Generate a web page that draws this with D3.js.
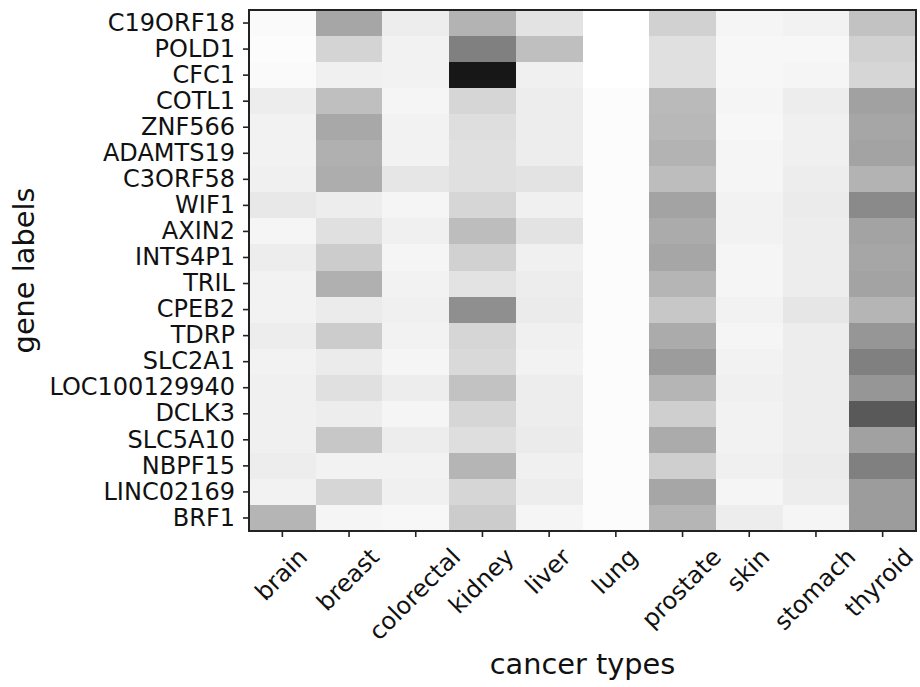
<!DOCTYPE html>
<html lang="en">
<head>
<meta charset="UTF-8" />
<title>gene labels vs cancer types</title>
<script src="https://d3js.org/d3.v7.min.js"></script>
<style>
  body { margin: 0; background: #fff; }
  text { font-family: "DejaVu Sans", sans-serif; fill: #111; }
</style>
</head>
<body>
<div id="chart"></div>
<script>
const cancers = ["brain", "breast", "colorectal", "kidney", "liver", "lung", "prostate", "skin", "stomach", "thyroid"];

const genes = ["C19ORF18", "POLD1", "CFC1", "COTL1", "ZNF566", "ADAMTS19", "C3ORF58", "WIF1", "AXIN2", "INTS4P1",
  "TRIL", "CPEB2", "TDRP", "SLC2A1", "LOC100129940", "DCLK3", "SLC5A10", "NBPF15", "LINC02169", "BRF1"];

// one row per gene, columns follow `cancers`
const values = [
  [0.02, 0.35, 0.07, 0.30, 0.11, 0.00, 0.18, 0.04, 0.05, 0.24],
  [0.01, 0.17, 0.05, 0.50, 0.25, 0.00, 0.12, 0.03, 0.03, 0.18],
  [0.02, 0.06, 0.05, 0.91, 0.06, 0.00, 0.12, 0.03, 0.04, 0.16],
  [0.07, 0.25, 0.04, 0.16, 0.07, 0.01, 0.27, 0.04, 0.07, 0.37],
  [0.05, 0.34, 0.05, 0.13, 0.07, 0.01, 0.28, 0.03, 0.06, 0.35],
  [0.05, 0.31, 0.05, 0.12, 0.07, 0.01, 0.30, 0.04, 0.06, 0.36],
  [0.06, 0.32, 0.10, 0.12, 0.11, 0.01, 0.26, 0.04, 0.07, 0.30],
  [0.09, 0.07, 0.04, 0.16, 0.06, 0.01, 0.36, 0.05, 0.08, 0.46],
  [0.04, 0.12, 0.06, 0.26, 0.11, 0.01, 0.33, 0.05, 0.07, 0.36],
  [0.07, 0.20, 0.04, 0.18, 0.06, 0.01, 0.35, 0.04, 0.07, 0.35],
  [0.05, 0.31, 0.05, 0.11, 0.07, 0.01, 0.29, 0.04, 0.07, 0.36],
  [0.05, 0.08, 0.06, 0.44, 0.08, 0.01, 0.22, 0.05, 0.10, 0.29],
  [0.07, 0.20, 0.05, 0.16, 0.06, 0.01, 0.33, 0.04, 0.07, 0.41],
  [0.05, 0.08, 0.04, 0.15, 0.05, 0.01, 0.39, 0.05, 0.07, 0.50],
  [0.06, 0.12, 0.07, 0.24, 0.07, 0.01, 0.29, 0.06, 0.07, 0.41],
  [0.06, 0.07, 0.04, 0.16, 0.07, 0.01, 0.19, 0.05, 0.07, 0.65],
  [0.06, 0.22, 0.07, 0.13, 0.08, 0.01, 0.33, 0.05, 0.07, 0.37],
  [0.07, 0.05, 0.05, 0.29, 0.06, 0.01, 0.19, 0.06, 0.08, 0.50],
  [0.05, 0.16, 0.06, 0.16, 0.07, 0.01, 0.35, 0.04, 0.07, 0.39],
  [0.29, 0.04, 0.03, 0.20, 0.04, 0.01, 0.29, 0.07, 0.04, 0.39]
];

const W = 920, H = 687;
const m = { left: 249, right: 916, top: 10, bottom: 531 };
const fs = 24;

const svg = d3.select("#chart").append("svg")
  .attr("width", W)
  .attr("height", H);

const x = d3.scaleBand().domain(cancers).range([m.left, m.right]);
const y = d3.scaleBand().domain(genes).range([m.top, m.bottom]);
const color = d3.scaleLinear().domain([0, 1]).range(["#ffffff", "#000000"]);

const cells = [];
genes.forEach((g, i) => cancers.forEach((c, j) => cells.push({ gene: g, cancer: c, v: values[i][j] })));

svg.append("g")
  .attr("shape-rendering", "crispEdges")
  .selectAll("rect")
  .data(cells)
  .enter()
  .append("rect")
  .attr("x", d => x(d.cancer))
  .attr("y", d => y(d.gene))
  .attr("width", x.bandwidth() + 0.5)
  .attr("height", y.bandwidth() + 0.5)
  .attr("fill", d => color(d.v));

// frame
svg.append("rect")
  .attr("x", m.left)
  .attr("y", m.top)
  .attr("width", m.right - m.left)
  .attr("height", m.bottom - m.top)
  .attr("fill", "none")
  .attr("stroke", "#222")
  .attr("stroke-width", 2);

// y axis
const yAxis = svg.append("g")
  .attr("transform", `translate(${m.left},0)`)
  .call(d3.axisLeft(y).tickSize(6).tickPadding(8));
yAxis.select(".domain").remove();
yAxis.selectAll(".tick line").attr("stroke", "#222").attr("stroke-width", 1.6);
yAxis.selectAll(".tick text")
  .attr("font-size", fs)
  .attr("font-family", "DejaVu Sans")
  .attr("fill", "#111");

// x axis, labels rotated 45 with their box centred under the tick
const xAxis = svg.append("g")
  .attr("transform", `translate(0,${m.bottom})`)
  .call(d3.axisBottom(x).tickSize(6));
xAxis.select(".domain").remove();
xAxis.selectAll(".tick line").attr("stroke", "#222").attr("stroke-width", 1.6);
const lineH = fs * 1.16;
xAxis.selectAll(".tick text")
  .attr("font-size", fs)
  .attr("font-family", "DejaVu Sans")
  .attr("fill", "#111")
  .attr("text-anchor", "middle")
  .attr("dy", null)
  .attr("dominant-baseline", "central")
  .each(function (d) {
    const w = this.getComputedTextLength();
    const half = (w + lineH) / (2 * Math.SQRT2);
    const cy = 12 + half;
    // keep the last label inside the page
    const cx = x(d) + x.bandwidth() / 2;
    const dx = Math.min(-1, W - 1 - (cx + half));
    d3.select(this).attr("y", null).attr("transform", `translate(${dx},${cy}) rotate(-45)`);
  });

// axis titles
svg.append("text")
  .attr("x", (m.left + m.right) / 2)
  .attr("y", 674)
  .attr("text-anchor", "middle")
  .attr("font-size", 28.8)
  .text("cancer types");

svg.append("text")
  .attr("transform", `translate(34,${(m.top + m.bottom) / 2}) rotate(-90)`)
  .attr("text-anchor", "middle")
  .attr("font-size", 28.8)
  .text("gene labels");
</script>
</body>
</html>
